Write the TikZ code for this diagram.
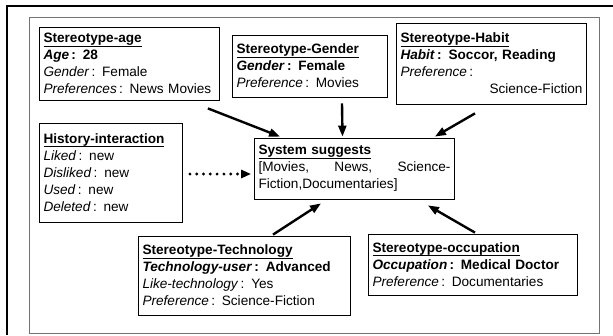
\documentclass[tikz,border=0pt]{standalone}
\usepackage{fontspec}
\setmainfont{Liberation Sans}
\usetikzlibrary{arrows.meta}
\newcommand{\ulbf}[1]{\setbox0\hbox{\textbf{#1}}\rlap{\raisebox{-4pt}{\rule{\wd0}{1.1pt}}}\box0}

\begin{document}
\begin{tikzpicture}[x=1pt, y=-1pt,
  box/.style={rectangle, draw=black, line width=0.8pt, fill=white,
              align=left, inner xsep=4pt, inner ysep=2pt,
              font=\fontsize{13.6}{17}\selectfont},
  arr/.style={-{Triangle[length=11pt, width=8pt]}, line width=2.4pt},
  dotarr/.style={-{Triangle[length=10pt, width=8pt]}, line width=3.2pt,
                 line cap=round, dash pattern=on 0pt off 6.8pt},
  frame/.style={draw=black!55, line width=0.6pt}
]
\useasboundingbox (0,0) rectangle (613,335);
% frames
\draw[line width=1.6pt] (613,6) -- (7,6) -- (7,335);
\draw[frame] (29,17) rectangle (599,333);

\node[box, text width=172pt, minimum height=73pt] (age) at (129.5,63.5)
  {\ulbf{Stereotype-age}\\
   \textbf{\textit{Age}\,: 28}\\
   \textit{Gender}\,: Female\\
   \textit{Preferences}\,: News Movies};
\node[box, text width=147pt, minimum height=62pt] (gender) at (310,66)
  {\ulbf{Stereotype-Gender}\\
   \textbf{\textit{Gender}\,: Female}\\
   \textit{Preference}\,: Movies};
\node[box, text width=182pt, minimum height=81pt] (habit) at (491.5,63.5)
  {\ulbf{Stereotype-Habit}\\
   \textbf{\textit{Habit}\,: Soccor, Reading}\\
   \textit{Preference}\,:\\
   \mbox{}\hfill Science-Fiction\hspace*{4pt}};
\node[box, text width=135pt, minimum height=99pt] (hist) at (111,172.5)
  {\ulbf{History-interaction}\\
   \textit{Liked}\,: new\\
   \textit{Disliked}\,: new\\
   \textit{Used}\,: new\\
   \textit{Deleted}\,: new};
\node[box, text width=192pt, minimum height=61pt] (sys) at (354.5,168.5)
  {\ulbf{System suggests}\\
   {[}Movies,\hfill News,\hfill Science-\\
   Fiction,Documentaries]};
\node[box, text width=204pt, minimum height=79pt] (tech) at (244.5,275.5)
  {\ulbf{Stereotype-Technology}\\
   \textbf{\textit{Technology-user}\,: Advanced}\\
   \textit{Like-technology}\,: Yes\\
   \textit{Preference}\,: Science-Fiction};
\node[box, text width=201pt, minimum height=61pt] (occ) at (473,264.5)
  {\ulbf{Stereotype-occupation}\\
   \textbf{\textit{Occupation}\,: Medical Doctor}\\
   \textit{Preference}\,: Documentaries};

\draw[arr] ([shift={(-12,8)}]age.south east) -- ([shift={(26,-1)}]sys.north west);
\draw[arr] ([shift={(32,6)}]gender.south) -- ([shift={(-12,-1)}]sys.north);
\draw[arr] ([shift={(-16.5,9)}]habit.south) -- ([shift={(-20,-1)}]sys.north east);
\draw[dotarr] ([shift={(7,1.5)}]hist.east) -- ([shift={(-3,5.5)}]sys.west);
\draw[arr] ([shift={(28.5,-1)}]tech.north) -- ([shift={(-33.5,4)}]sys.south);
\draw[arr] ([shift={(2,-1)}]occ.north) -- ([shift={(-27,6)}]sys.south east);
\end{tikzpicture}
\end{document}
